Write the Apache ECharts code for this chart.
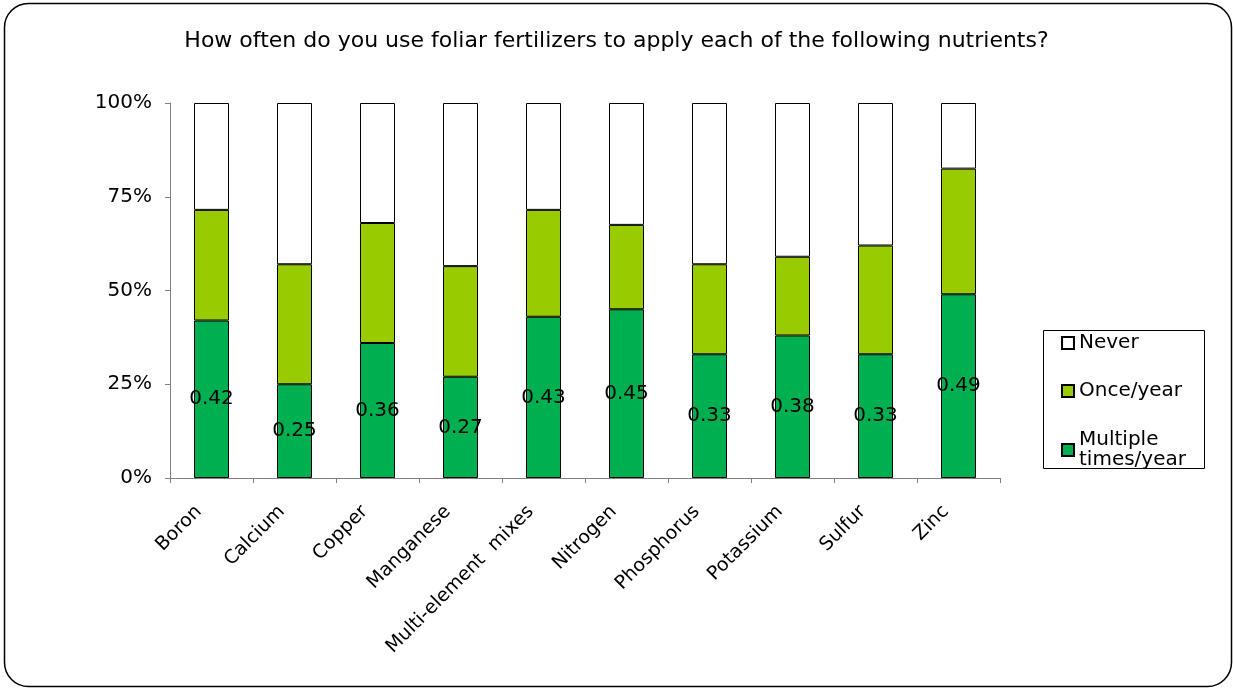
<!DOCTYPE html>
<html lang="en">
<head>
<meta charset="utf-8" />
<style>
    html, body { margin: 0; padding: 0; background: #fff; }
    .box { width: 1233px; height: 688px; }
</style>
</head>
<body>
<div class="box"></div>
<script src="https://cdn.jsdelivr.net/npm/echarts@6/dist/echarts.min.js"></script>
<script>
// categories and shares (fractions of respondents)
var nutrients = ['Boron', 'Calcium', 'Copper', 'Manganese', 'Multi-element  mixes',
    'Nitrogen', 'Phosphorus', 'Potassium', 'Sulfur', 'Zinc'];
var multipleTimes = [0.42, 0.25, 0.36, 0.27, 0.43, 0.45, 0.33, 0.38, 0.33, 0.49];
var oncePerYear   = [0.295, 0.32, 0.32, 0.295, 0.285, 0.225, 0.24, 0.21, 0.29, 0.335];
var never         = [0.285, 0.43, 0.32, 0.435, 0.285, 0.325, 0.43, 0.41, 0.38, 0.175];

var FONT = 'DejaVu Sans';

var myChart = echarts.init(document.querySelector('.box'));

var barStyle = function (color) {
    return { color: color, borderColor: '#000', borderWidth: 1 };
};

var option = {
    backgroundColor: '#fff',
    animation: false,
    textStyle: { fontFamily: FONT, color: '#000' },
    title: {
        text: 'How often do you use foliar fertilizers to apply each of the following nutrients?',
        left: 'center',
        top: 25,
        textStyle: { fontFamily: FONT, fontSize: 22, fontWeight: 'normal', color: '#000' }
    },
    legend: [{
        orient: 'vertical',
        left: 1061,
        top: 333,
        padding: 0,
        itemWidth: 12,
        itemHeight: 12,
        itemGap: 28,
        icon: 'rect',
        textStyle: { fontFamily: FONT, fontSize: 20, color: '#000' },
        data: ['Never', 'Once/year']
    }, {
        orient: 'vertical',
        left: 1061,
        top: 420,
        padding: 0,
        itemWidth: 12,
        itemHeight: 12,
        icon: 'rect',
        textStyle: { fontFamily: FONT, fontSize: 20, color: '#000', lineHeight: 20, padding: [20, 0, 0, 0] },
        formatter: function (name) { return name.replace(' ', '\n'); },
        data: ['Multiple times/year']
    }],
    grid: { left: 170, right: 233, top: 103, bottom: 210 },
    xAxis: {
        type: 'category',
        data: nutrients,
        axisLine: { lineStyle: { color: '#808080', width: 1 } },
        axisTick: { show: true, length: 5, lineStyle: { color: '#808080' } },
        axisLabel: {
            rotate: 45, fontFamily: FONT, fontSize: 19, color: '#000',
            margin: 18, padding: [0, 18, 0, 0], interval: 0
        }
    },
    yAxis: {
        type: 'value',
        min: 0,
        max: 1,
        interval: 0.25,
        axisLine: { show: true, lineStyle: { color: '#808080', width: 1 } },
        axisTick: { show: true, length: 5, lineStyle: { color: '#808080' } },
        splitLine: { show: false },
        axisLabel: {
            fontFamily: FONT, fontSize: 20, color: '#000', margin: 18,
            formatter: function (v) { return Math.round(v * 100) + '%'; }
        }
    },
    series: [{
        name: 'Multiple times/year',
        type: 'bar',
        stack: 'all',
        barWidth: 35,
        itemStyle: barStyle('#00B050'),
        label: {
            show: true,
            position: 'inside',
            fontFamily: FONT,
            fontSize: 20,
            color: '#000',
            formatter: function (p) { return p.value.toFixed(2); }
        },
        data: multipleTimes
    }, {
        name: 'Once/year',
        type: 'bar',
        stack: 'all',
        barWidth: 35,
        itemStyle: barStyle('#99CC00'),
        data: oncePerYear
    }, {
        name: 'Never',
        type: 'bar',
        stack: 'all',
        barWidth: 35,
        itemStyle: barStyle('#FFFFFF'),
        data: never
    }],
    graphic: [{
        type: 'rect',
        shape: { x: 4.5, y: 3.5, width: 1227, height: 683, r: 24 },
        style: { fill: 'none', stroke: '#000', lineWidth: 1.5 },
        silent: true
    }, {
        type: 'rect',
        shape: { x: 1043.5, y: 330.5, width: 161, height: 138 },
        style: { fill: 'none', stroke: '#000', lineWidth: 1 },
        silent: true
    }]
};

myChart.setOption(option);
</script>
</body>
</html>
